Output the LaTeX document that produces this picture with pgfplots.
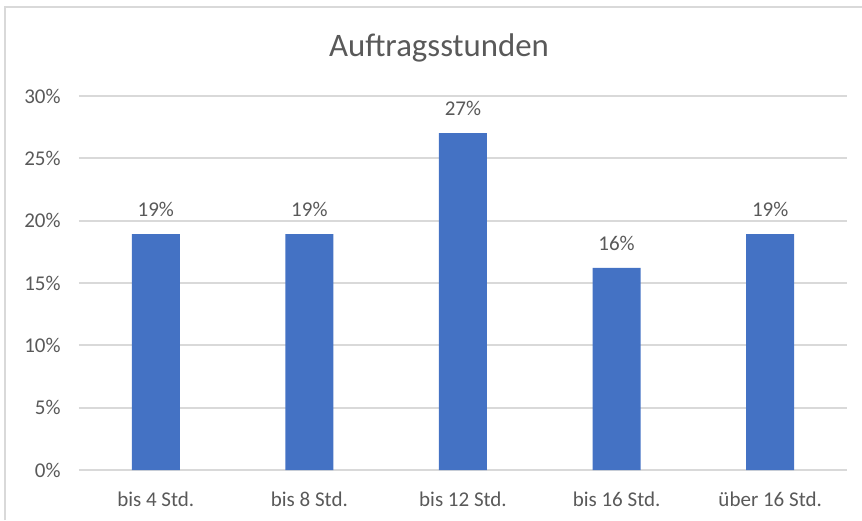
\documentclass[border=0pt]{standalone}
\usepackage{pgfplots}
\pgfplotsset{compat=1.18}
\usepackage{fontspec}
\setmainfont{Carlito}
\definecolor{barblue}{HTML}{4472C4}
\definecolor{textgray}{HTML}{595959}
\definecolor{gridgray}{HTML}{D9D9D9}

\begin{document}
% 1 unit = one pixel of the reference (862x520), scaled to 0.5pt
\begin{tikzpicture}[x=0.5pt,y=0.5pt]
\useasboundingbox (0,0) rectangle (862,520);
% chart frame (right and bottom edges lie outside the crop)
\draw[gridgray, line width=1pt] (5,0) -- (5,513) -- (862,513);
% title
\node[font=\fontsize{16.4}{19}\selectfont, text=textgray, anchor=base] at (439,463) {Auftragsstunden};

\begin{axis}[
    at={(39.5pt,25pt)}, anchor=south west,
    scale only axis,
    width=384pt, height=187pt,
    xmin=-0.5, xmax=4.5,
    ymin=0, ymax=30,
    xtick={0,1,2,3,4},
    xticklabels={bis 4 Std., bis 8 Std., bis 12 Std., bis 16 Std., über 16 Std.},
    ytick={0,5,10,15,20,25,30},
    yticklabels={0\%,5\%,10\%,15\%,20\%,25\%,30\%},
    axis x line*=bottom, axis y line*=left,
    x axis line style={gridgray, line width=1pt, -},
    y axis line style={draw=none},
    major tick length=0pt,
    tick style={draw=none},
    ymajorgrids,
    grid style={gridgray, line width=1pt},
    tick label style={font=\fontsize{10.5}{12}\selectfont, text=textgray, inner sep=0pt},
    yticklabel style={anchor=east, xshift=-9pt},
    xticklabel style={anchor=north, yshift=-11pt},
    ybar, bar width=24pt,
    point meta=explicit symbolic,
    nodes near coords,
    every node near coord/.append style={font=\fontsize{10.5}{12}\selectfont, text=textgray, inner sep=0pt, anchor=south, yshift=8.5pt},
]
\addplot[fill=barblue, draw=none] coordinates {
    (0,18.92) [19\%]
    (1,18.92) [19\%]
    (2,27.03) [27\%]
    (3,16.22) [16\%]
    (4,18.92) [19\%]
};
\end{axis}
\end{tikzpicture}
\end{document}
